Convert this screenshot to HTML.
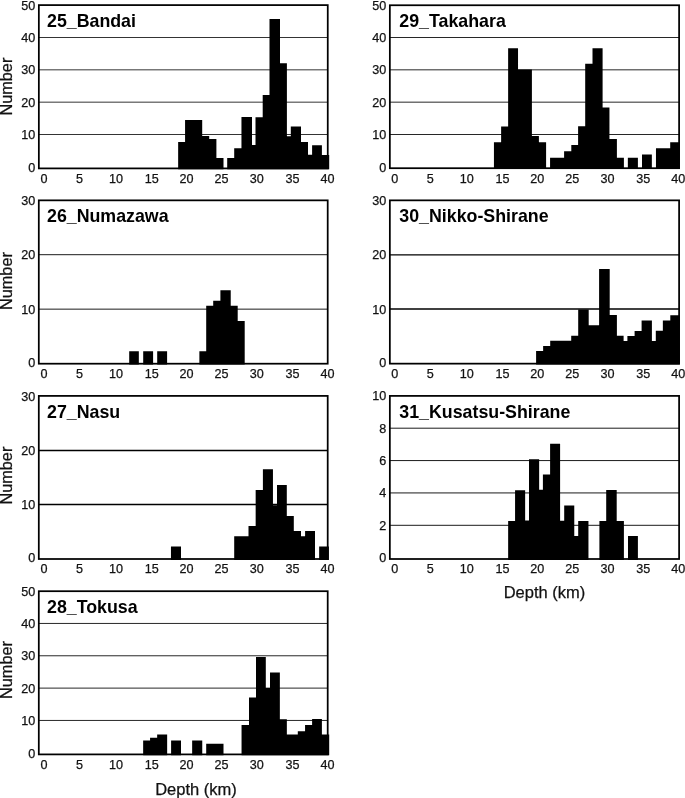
<!DOCTYPE html><html><head><meta charset="utf-8"><style>html,body{margin:0;padding:0;background:#fff;}svg{display:block;will-change:transform}</style></head><body>
<svg width="685" height="798" viewBox="0 0 685 798" font-family='"Liberation Sans", sans-serif'>
<style>text{stroke:#111;stroke-width:0.25;paint-order:stroke}text.b{stroke:none}</style>
<rect x="0" y="0" width="685" height="798" fill="#fff"/>
<line x1="38.85" y1="134.50" x2="327.75" y2="134.50" stroke="#000" stroke-width="0.8"/>
<line x1="38.85" y1="102.17" x2="327.75" y2="102.17" stroke="#000" stroke-width="0.8"/>
<line x1="38.85" y1="69.83" x2="327.75" y2="69.83" stroke="#000" stroke-width="0.8"/>
<line x1="38.85" y1="37.50" x2="327.75" y2="37.50" stroke="#000" stroke-width="0.8"/>
<path d="M178.15,169.30L178.15,141.97L185.07,141.97L185.07,120.07L202.20,120.07L202.20,136.00L209.20,136.00L209.20,138.90L216.40,138.90L216.40,158.00L223.50,158.00L223.50,169.30ZM227.20,169.30L227.20,158.00L234.20,158.00L234.20,148.30L241.46,148.30L241.46,117.00L252.00,117.00L252.00,145.00L255.50,145.00L255.50,117.20L262.70,117.20L262.70,95.00L269.50,95.00L269.50,19.00L280.00,19.00L280.00,63.30L286.90,63.30L286.90,136.30L290.80,136.30L290.80,126.50L301.00,126.50L301.00,142.10L308.00,142.10L308.00,154.80L312.10,154.80L312.10,145.30L321.90,145.30L321.90,155.10L329.20,155.10L329.20,169.30Z" fill="#000"/>
<rect x="38.85" y="5.10" width="288.90" height="163.30" fill="none" stroke="#000" stroke-width="1.75"/>
<text x="35.30" y="171.85" font-size="12.6" text-anchor="end" fill="#111">0</text>
<text x="35.30" y="138.95" font-size="12.6" text-anchor="end" fill="#111">10</text>
<text x="35.30" y="106.62" font-size="12.6" text-anchor="end" fill="#111">20</text>
<text x="35.30" y="74.28" font-size="12.6" text-anchor="end" fill="#111">30</text>
<text x="35.30" y="41.95" font-size="12.6" text-anchor="end" fill="#111">40</text>
<text x="35.30" y="9.62" font-size="12.6" text-anchor="end" fill="#111">50</text>
<text x="44.10" y="182.70" font-size="12.6" text-anchor="middle" fill="#111">0</text>
<text x="79.54" y="182.70" font-size="12.6" text-anchor="middle" fill="#111">5</text>
<text x="116.07" y="182.70" font-size="12.6" text-anchor="middle" fill="#111">10</text>
<text x="151.71" y="182.70" font-size="12.6" text-anchor="middle" fill="#111">15</text>
<text x="186.55" y="182.70" font-size="12.6" text-anchor="middle" fill="#111">20</text>
<text x="221.59" y="182.70" font-size="12.6" text-anchor="middle" fill="#111">25</text>
<text x="256.73" y="182.70" font-size="12.6" text-anchor="middle" fill="#111">30</text>
<text x="292.46" y="182.70" font-size="12.6" text-anchor="middle" fill="#111">35</text>
<text x="327.60" y="182.70" font-size="12.6" text-anchor="middle" fill="#111">40</text>
<text x="47.00" y="26.90" font-size="17.8" font-weight="bold" fill="#000" class="b">25_Bandai</text>
<text transform="translate(12.2,86.65) rotate(-90)" font-size="16.3" text-anchor="middle" fill="#111">Number</text>
<line x1="38.80" y1="309.15" x2="327.70" y2="309.15" stroke="#000" stroke-width="0.9"/>
<line x1="38.80" y1="254.70" x2="327.70" y2="254.70" stroke="#000" stroke-width="0.9"/>
<path d="M129.20,364.60L129.20,351.20L138.83,351.20L138.83,364.60ZM143.20,364.60L143.20,351.20L153.10,351.20L153.10,364.60ZM157.20,364.60L157.20,351.20L167.10,351.20L167.10,364.60ZM199.37,364.60L199.37,351.36L206.20,351.36L206.20,305.66L213.20,305.66L213.20,300.67L220.40,300.67L220.40,290.34L230.73,290.34L230.73,305.66L237.70,305.66L237.70,320.95L244.70,320.95L244.70,364.60Z" fill="#000"/>
<rect x="38.80" y="200.35" width="288.90" height="163.35" fill="none" stroke="#000" stroke-width="1.75"/>
<text x="35.30" y="367.15" font-size="12.6" text-anchor="end" fill="#111">0</text>
<text x="35.30" y="313.60" font-size="12.6" text-anchor="end" fill="#111">10</text>
<text x="35.30" y="259.15" font-size="12.6" text-anchor="end" fill="#111">20</text>
<text x="35.30" y="204.70" font-size="12.6" text-anchor="end" fill="#111">30</text>
<text x="44.10" y="378.00" font-size="12.6" text-anchor="middle" fill="#111">0</text>
<text x="79.54" y="378.00" font-size="12.6" text-anchor="middle" fill="#111">5</text>
<text x="116.07" y="378.00" font-size="12.6" text-anchor="middle" fill="#111">10</text>
<text x="151.71" y="378.00" font-size="12.6" text-anchor="middle" fill="#111">15</text>
<text x="186.55" y="378.00" font-size="12.6" text-anchor="middle" fill="#111">20</text>
<text x="221.59" y="378.00" font-size="12.6" text-anchor="middle" fill="#111">25</text>
<text x="256.73" y="378.00" font-size="12.6" text-anchor="middle" fill="#111">30</text>
<text x="292.46" y="378.00" font-size="12.6" text-anchor="middle" fill="#111">35</text>
<text x="327.60" y="378.00" font-size="12.6" text-anchor="middle" fill="#111">40</text>
<text x="47.00" y="222.15" font-size="17.8" font-weight="bold" fill="#000" class="b">26_Numazawa</text>
<text transform="translate(12.2,281.05) rotate(-90)" font-size="16.3" text-anchor="middle" fill="#111">Number</text>
<line x1="38.80" y1="504.40" x2="327.70" y2="504.40" stroke="#000" stroke-width="1.45"/>
<line x1="38.80" y1="450.40" x2="327.70" y2="450.40" stroke="#000" stroke-width="1.45"/>
<path d="M170.95,559.90L170.95,546.40L181.00,546.40L181.00,559.90ZM234.20,559.90L234.20,536.20L248.50,536.20L248.50,526.00L255.66,526.00L255.66,490.00L262.90,490.00L262.90,469.20L272.95,469.20L272.95,505.30L277.00,505.30L277.00,485.10L286.80,485.10L286.80,516.00L293.80,516.00L293.80,531.10L301.00,531.10L301.00,536.35L305.10,536.35L305.10,531.10L315.00,531.10L315.00,559.90ZM319.15,559.90L319.15,546.60L328.90,546.60L328.90,559.90Z" fill="#000"/>
<rect x="38.80" y="395.90" width="288.90" height="163.10" fill="none" stroke="#000" stroke-width="1.75"/>
<text x="35.30" y="562.45" font-size="12.6" text-anchor="end" fill="#111">0</text>
<text x="35.30" y="508.85" font-size="12.6" text-anchor="end" fill="#111">10</text>
<text x="35.30" y="454.85" font-size="12.6" text-anchor="end" fill="#111">20</text>
<text x="35.30" y="400.85" font-size="12.6" text-anchor="end" fill="#111">30</text>
<text x="44.10" y="573.30" font-size="12.6" text-anchor="middle" fill="#111">0</text>
<text x="79.54" y="573.30" font-size="12.6" text-anchor="middle" fill="#111">5</text>
<text x="116.07" y="573.30" font-size="12.6" text-anchor="middle" fill="#111">10</text>
<text x="151.71" y="573.30" font-size="12.6" text-anchor="middle" fill="#111">15</text>
<text x="186.55" y="573.30" font-size="12.6" text-anchor="middle" fill="#111">20</text>
<text x="221.59" y="573.30" font-size="12.6" text-anchor="middle" fill="#111">25</text>
<text x="256.73" y="573.30" font-size="12.6" text-anchor="middle" fill="#111">30</text>
<text x="292.46" y="573.30" font-size="12.6" text-anchor="middle" fill="#111">35</text>
<text x="327.60" y="573.30" font-size="12.6" text-anchor="middle" fill="#111">40</text>
<text x="47.00" y="417.70" font-size="17.8" font-weight="bold" fill="#000" class="b">27_Nasu</text>
<text transform="translate(12.2,475.65) rotate(-90)" font-size="16.3" text-anchor="middle" fill="#111">Number</text>
<line x1="38.80" y1="720.45" x2="327.70" y2="720.45" stroke="#000" stroke-width="0.85"/>
<line x1="38.80" y1="688.12" x2="327.70" y2="688.12" stroke="#000" stroke-width="0.85"/>
<line x1="38.80" y1="655.78" x2="327.70" y2="655.78" stroke="#000" stroke-width="0.85"/>
<line x1="38.80" y1="623.45" x2="327.70" y2="623.45" stroke="#000" stroke-width="0.85"/>
<path d="M143.15,755.30L143.15,740.55L150.07,740.55L150.07,737.66L157.16,737.66L157.16,734.40L167.15,734.40L167.15,755.30ZM171.10,755.30L171.10,740.55L181.00,740.55L181.00,755.30ZM192.15,755.30L192.15,740.55L202.25,740.55L202.25,755.30ZM206.20,755.30L206.20,743.80L223.50,743.80L223.50,755.30ZM241.55,755.30L241.55,725.10L249.00,725.10L249.00,697.40L256.00,697.40L256.00,657.10L265.80,657.10L265.80,688.00L270.00,688.00L270.00,672.40L279.85,672.40L279.85,719.20L286.85,719.20L286.85,734.50L297.80,734.50L297.80,731.30L305.06,731.30L305.06,725.06L312.10,725.06L312.10,719.10L321.90,719.10L321.90,734.50L329.20,734.50L329.20,755.30Z" fill="#000"/>
<rect x="38.80" y="591.20" width="288.90" height="163.20" fill="none" stroke="#000" stroke-width="1.75"/>
<text x="35.30" y="757.85" font-size="12.6" text-anchor="end" fill="#111">0</text>
<text x="35.30" y="724.90" font-size="12.6" text-anchor="end" fill="#111">10</text>
<text x="35.30" y="692.57" font-size="12.6" text-anchor="end" fill="#111">20</text>
<text x="35.30" y="660.23" font-size="12.6" text-anchor="end" fill="#111">30</text>
<text x="35.30" y="627.90" font-size="12.6" text-anchor="end" fill="#111">40</text>
<text x="35.30" y="595.57" font-size="12.6" text-anchor="end" fill="#111">50</text>
<text x="44.10" y="768.70" font-size="12.6" text-anchor="middle" fill="#111">0</text>
<text x="79.54" y="768.70" font-size="12.6" text-anchor="middle" fill="#111">5</text>
<text x="116.07" y="768.70" font-size="12.6" text-anchor="middle" fill="#111">10</text>
<text x="151.71" y="768.70" font-size="12.6" text-anchor="middle" fill="#111">15</text>
<text x="186.55" y="768.70" font-size="12.6" text-anchor="middle" fill="#111">20</text>
<text x="221.59" y="768.70" font-size="12.6" text-anchor="middle" fill="#111">25</text>
<text x="256.73" y="768.70" font-size="12.6" text-anchor="middle" fill="#111">30</text>
<text x="292.46" y="768.70" font-size="12.6" text-anchor="middle" fill="#111">35</text>
<text x="327.60" y="768.70" font-size="12.6" text-anchor="middle" fill="#111">40</text>
<text x="47.00" y="613.00" font-size="17.8" font-weight="bold" fill="#000" class="b">28_Tokusa</text>
<text transform="translate(12.2,670.00) rotate(-90)" font-size="16.3" text-anchor="middle" fill="#111">Number</text>
<line x1="389.85" y1="134.50" x2="679.10" y2="134.50" stroke="#000" stroke-width="0.85"/>
<line x1="389.85" y1="102.17" x2="679.10" y2="102.17" stroke="#000" stroke-width="0.85"/>
<line x1="389.85" y1="69.83" x2="679.10" y2="69.83" stroke="#000" stroke-width="0.85"/>
<line x1="389.85" y1="37.50" x2="679.10" y2="37.50" stroke="#000" stroke-width="0.85"/>
<path d="M493.94,169.10L493.94,142.20L501.12,142.20L501.12,126.40L508.13,126.40L508.13,48.30L518.03,48.30L518.03,69.60L531.90,69.60L531.90,136.00L538.90,136.00L538.90,142.20L546.10,142.20L546.10,169.10ZM550.07,169.10L550.07,157.70L564.10,157.70L564.10,151.30L571.30,151.30L571.30,145.00L578.10,145.00L578.10,126.20L585.20,126.20L585.20,63.80L592.50,63.80L592.50,48.15L602.60,48.15L602.60,107.60L609.45,107.60L609.45,139.10L616.90,139.10L616.90,157.70L623.90,157.70L623.90,169.10ZM627.85,169.10L627.85,157.70L637.90,157.70L637.90,169.10ZM642.00,169.10L642.00,154.60L651.85,154.60L651.85,169.10ZM655.97,169.10L655.97,148.20L670.20,148.20L670.20,142.30L679.75,142.30L679.75,169.10Z" fill="#000"/>
<rect x="389.85" y="5.25" width="289.25" height="162.95" fill="none" stroke="#000" stroke-width="1.75"/>
<text x="386.35" y="171.65" font-size="12.6" text-anchor="end" fill="#111">0</text>
<text x="386.35" y="138.95" font-size="12.6" text-anchor="end" fill="#111">10</text>
<text x="386.35" y="106.62" font-size="12.6" text-anchor="end" fill="#111">20</text>
<text x="386.35" y="74.28" font-size="12.6" text-anchor="end" fill="#111">30</text>
<text x="386.35" y="41.95" font-size="12.6" text-anchor="end" fill="#111">40</text>
<text x="386.35" y="9.62" font-size="12.6" text-anchor="end" fill="#111">50</text>
<text x="394.85" y="182.50" font-size="12.6" text-anchor="middle" fill="#111">0</text>
<text x="430.29" y="182.50" font-size="12.6" text-anchor="middle" fill="#111">5</text>
<text x="466.83" y="182.50" font-size="12.6" text-anchor="middle" fill="#111">10</text>
<text x="502.46" y="182.50" font-size="12.6" text-anchor="middle" fill="#111">15</text>
<text x="537.30" y="182.50" font-size="12.6" text-anchor="middle" fill="#111">20</text>
<text x="572.34" y="182.50" font-size="12.6" text-anchor="middle" fill="#111">25</text>
<text x="607.48" y="182.50" font-size="12.6" text-anchor="middle" fill="#111">30</text>
<text x="643.21" y="182.50" font-size="12.6" text-anchor="middle" fill="#111">35</text>
<text x="678.35" y="182.50" font-size="12.6" text-anchor="middle" fill="#111">40</text>
<text x="399.35" y="27.05" font-size="17.8" font-weight="bold" fill="#000" class="b">29_Takahara</text>
<line x1="389.85" y1="309.05" x2="679.10" y2="309.05" stroke="#000" stroke-width="1.4"/>
<line x1="389.85" y1="254.90" x2="679.10" y2="254.90" stroke="#000" stroke-width="1.4"/>
<path d="M536.10,364.55L536.10,351.00L543.13,351.00L543.13,345.90L550.20,345.90L550.20,340.80L571.20,340.80L571.20,335.80L578.20,335.80L578.20,309.50L588.70,309.50L588.70,325.30L599.10,325.30L599.10,269.00L609.70,269.00L609.70,315.10L616.90,315.10L616.90,335.80L623.60,335.80L623.60,340.90L627.40,340.90L627.40,335.90L634.60,335.90L634.60,330.90L641.60,330.90L641.60,320.60L651.90,320.60L651.90,341.00L655.80,341.00L655.80,330.80L662.85,330.80L662.85,320.60L670.30,320.60L670.30,315.30L679.75,315.30L679.75,364.55Z" fill="#000"/>
<rect x="389.85" y="200.35" width="289.25" height="163.30" fill="none" stroke="#000" stroke-width="1.75"/>
<text x="386.35" y="367.10" font-size="12.6" text-anchor="end" fill="#111">0</text>
<text x="386.35" y="313.50" font-size="12.6" text-anchor="end" fill="#111">10</text>
<text x="386.35" y="259.35" font-size="12.6" text-anchor="end" fill="#111">20</text>
<text x="386.35" y="205.20" font-size="12.6" text-anchor="end" fill="#111">30</text>
<text x="394.85" y="377.95" font-size="12.6" text-anchor="middle" fill="#111">0</text>
<text x="430.29" y="377.95" font-size="12.6" text-anchor="middle" fill="#111">5</text>
<text x="466.83" y="377.95" font-size="12.6" text-anchor="middle" fill="#111">10</text>
<text x="502.46" y="377.95" font-size="12.6" text-anchor="middle" fill="#111">15</text>
<text x="537.30" y="377.95" font-size="12.6" text-anchor="middle" fill="#111">20</text>
<text x="572.34" y="377.95" font-size="12.6" text-anchor="middle" fill="#111">25</text>
<text x="607.48" y="377.95" font-size="12.6" text-anchor="middle" fill="#111">30</text>
<text x="643.21" y="377.95" font-size="12.6" text-anchor="middle" fill="#111">35</text>
<text x="678.35" y="377.95" font-size="12.6" text-anchor="middle" fill="#111">40</text>
<text x="399.35" y="222.15" font-size="17.8" font-weight="bold" fill="#000" class="b">30_Nikko-Shirane</text>
<line x1="389.85" y1="525.30" x2="679.10" y2="525.30" stroke="#000" stroke-width="0.9"/>
<line x1="389.85" y1="492.93" x2="679.10" y2="492.93" stroke="#000" stroke-width="0.9"/>
<line x1="389.85" y1="460.57" x2="679.10" y2="460.57" stroke="#000" stroke-width="0.9"/>
<line x1="389.85" y1="428.20" x2="679.10" y2="428.20" stroke="#000" stroke-width="0.9"/>
<path d="M508.15,559.90L508.15,521.00L515.07,521.00L515.07,490.15L525.14,490.15L525.14,520.60L529.00,520.60L529.00,459.20L539.15,459.20L539.15,489.70L542.90,489.70L542.90,474.60L550.10,474.60L550.10,443.75L560.10,443.75L560.10,520.70L564.20,520.70L564.20,505.40L574.27,505.40L574.27,535.90L578.20,535.90L578.20,520.90L588.46,520.90L588.46,559.90ZM599.40,559.90L599.40,520.90L606.20,520.90L606.20,490.07L616.70,490.07L616.70,520.90L623.90,520.90L623.90,559.90ZM628.00,559.90L628.00,536.06L637.90,536.06L637.90,559.90Z" fill="#000"/>
<rect x="389.85" y="395.90" width="289.25" height="163.10" fill="none" stroke="#000" stroke-width="1.75"/>
<text x="386.35" y="562.45" font-size="12.6" text-anchor="end" fill="#111">0</text>
<text x="386.35" y="529.75" font-size="12.6" text-anchor="end" fill="#111">2</text>
<text x="386.35" y="497.38" font-size="12.6" text-anchor="end" fill="#111">4</text>
<text x="386.35" y="465.02" font-size="12.6" text-anchor="end" fill="#111">6</text>
<text x="386.35" y="432.65" font-size="12.6" text-anchor="end" fill="#111">8</text>
<text x="386.35" y="400.28" font-size="12.6" text-anchor="end" fill="#111">10</text>
<text x="394.85" y="573.30" font-size="12.6" text-anchor="middle" fill="#111">0</text>
<text x="430.29" y="573.30" font-size="12.6" text-anchor="middle" fill="#111">5</text>
<text x="466.83" y="573.30" font-size="12.6" text-anchor="middle" fill="#111">10</text>
<text x="502.46" y="573.30" font-size="12.6" text-anchor="middle" fill="#111">15</text>
<text x="537.30" y="573.30" font-size="12.6" text-anchor="middle" fill="#111">20</text>
<text x="572.34" y="573.30" font-size="12.6" text-anchor="middle" fill="#111">25</text>
<text x="607.48" y="573.30" font-size="12.6" text-anchor="middle" fill="#111">30</text>
<text x="643.21" y="573.30" font-size="12.6" text-anchor="middle" fill="#111">35</text>
<text x="678.35" y="573.30" font-size="12.6" text-anchor="middle" fill="#111">40</text>
<text x="399.35" y="417.70" font-size="17.8" font-weight="bold" fill="#000" class="b">31_Kusatsu-Shirane</text>
<text x="196.0" y="794.8" font-size="16.5" text-anchor="middle" fill="#111">Depth (km)</text>
<text x="544.5" y="597.95" font-size="16.5" text-anchor="middle" fill="#111">Depth (km)</text>
</svg></body></html>
